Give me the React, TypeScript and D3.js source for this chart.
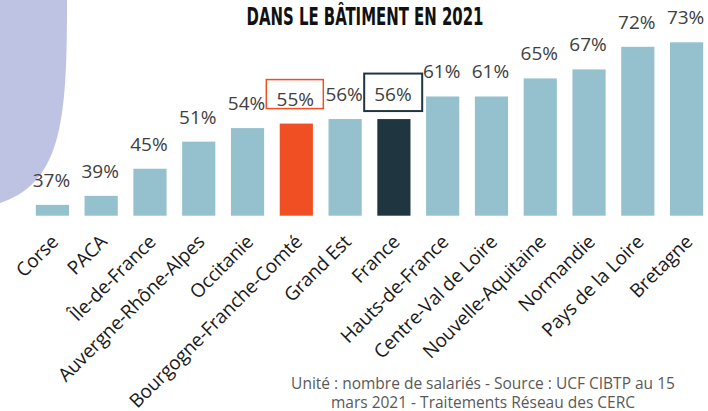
import * as React from 'react';
import * as d3 from 'd3';

const regions = ['Corse', 'PACA', 'Île-de-France', 'Auvergne-Rhône-Alpes', 'Occitanie', 'Bourgogne-Franche-Comté', 'Grand Est', 'France', 'Hauts-de-France', 'Centre-Val de Loire', 'Nouvelle-Aquitaine', 'Normandie', 'Pays de la Loire', 'Bretagne'];
const shares = [37, 39, 45, 51, 54, 55, 56, 56, 61, 61, 65, 67, 72, 73];
const title = 'DANS LE BÂTIMENT EN 2021';
const sourceLines = ['Unité : nombre de salariés - Source : UCF CIBTP au 15', 'mars 2021 - Traitements Réseau des CERC'];

const W = 708, H = 411;
const baseColor = '#94c1cd';
const colorOf = (name: string) => name === 'France' ? '#1f3640' : name === 'Bourgogne-Franche-Comté' ? '#f04e23' : baseColor;

export default function App() {
  const ref = React.useRef<SVGSVGElement>(null);

  React.useEffect(() => {
    const svg = d3.select(ref.current);
    svg.selectAll('*').remove();

    // decorative lavender shape in the top-left corner
    svg.append('path')
      .attr('d', 'M0,0 L67,0 C67,115 63,180 3,202 L0,203 Z')
      .attr('fill', '#bfc3e3');

    const x = d3.scaleBand<string>()
      .domain(regions)
      .range([28, 711])
      .paddingInner(0.32)
      .paddingOuter(0.16);

    const y = d3.scaleLinear()
      .domain([34.6, 73])
      .range([215.7, 42.3]);

    const data = regions.map((r, i) => ({ region: r, value: shares[i] }));

    svg.append('g').selectAll('rect')
      .data(data)
      .enter()
      .append('rect')
      .attr('x', d => x(d.region)!)
      .attr('y', d => y(d.value))
      .attr('width', x.bandwidth())
      .attr('height', d => y.range()[0] - y(d.value))
      .attr('fill', d => colorOf(d.region));

    // value labels
    svg.append('g').selectAll('text')
      .data(data)
      .enter()
      .append('text')
      .attr('x', d => x(d.region)! + x.bandwidth() / 2 - 1)
      .attr('y', d => y(d.value) - 18)
      .attr('text-anchor', 'middle')
      .style('font-family', '"Open Sans", sans-serif')
      .style('font-size', '19px')
      .style('fill', '#404040')
      .text(d => d.value + '%');

    // boxes around the highlighted labels
    const bfc = data.find(d => d.region === 'Bourgogne-Franche-Comté')!;
    const bx = x(bfc.region)! + x.bandwidth() / 2 - 1.5;
    const bBase = y(bfc.value) - 18;
    svg.append('rect')
      .attr('x', bx - 28.5).attr('y', bBase - 26)
      .attr('width', 57).attr('height', 29)
      .attr('fill', 'none').attr('stroke', '#f04e23').attr('stroke-width', 1.5);

    const fr = data.find(d => d.region === 'France')!;
    const fx = x(fr.region)! + x.bandwidth() / 2 - 0.7;
    const fBase = y(fr.value) - 18;
    svg.append('rect')
      .attr('x', fx - 29).attr('y', fBase - 27.5)
      .attr('width', 58).attr('height', 37.5)
      .attr('fill', 'none').attr('stroke', '#1f3640').attr('stroke-width', 2);

    // category labels
    svg.append('g').selectAll('text')
      .data(regions)
      .enter()
      .append('text')
      .attr('transform', d => `translate(${x(d)! + x.bandwidth() / 2 + 7},${243}) rotate(-45)`)
      .attr('text-anchor', 'end')
      .style('font-family', '"Open Sans", sans-serif')
      .style('font-size', '19px')
      .style('letter-spacing', '-0.2px')
      .style('fill', '#1a1a1a')
      .text(d => d);

    // title
    svg.append('text')
      .attr('x', 246.5)
      .attr('y', 25)
      .attr('textLength', 237)
      .attr('lengthAdjust', 'spacingAndGlyphs')
      .style('font-family', '"Liberation Sans Narrow", "DejaVu Sans Condensed", sans-serif')
      .style('font-weight', 'bold')
      .style('font-size', '25px')
      .style('fill', '#111')
      .text(title);

    // source note
    svg.append('g').selectAll('text')
      .data(sourceLines)
      .enter()
      .append('text')
      .attr('x', 483)
      .attr('y', (d, i) => 389 + i * 18.5)
      .attr('text-anchor', 'middle')
      .style('font-family', '"Open Sans", sans-serif')
      .style('font-size', '15.5px')
      .style('fill', '#595959')
      .text(d => d);
  }, []);

  return (
    <div style={{ position: 'absolute', left: 0, top: 0 }}>
      <svg ref={ref} width={W} height={H} style={{ display: 'block', background: '#fff' }} />
    </div>
  );
}
